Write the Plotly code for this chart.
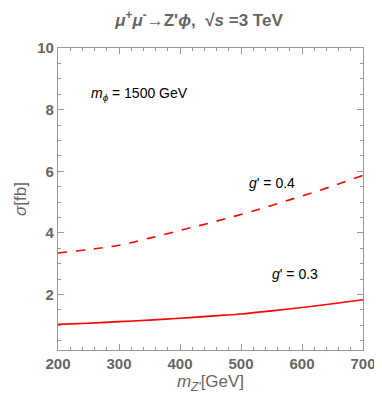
import plotly.graph_objects as go

# Z' mass [GeV] and cross sections [fb]
m_zp = [200, 250, 300, 350, 400, 450, 500, 550, 600, 650, 700]
sigma_g04 = [3.35, 3.46, 3.60, 3.83, 4.08, 4.33, 4.60, 4.89, 5.20, 5.52, 5.87]
sigma_g03 = [1.03, 1.07, 1.12, 1.17, 1.23, 1.30, 1.37, 1.47, 1.58, 1.70, 1.83]

grey = "#666666"
frame = "#999999"
fnt = "Arial"

fig = go.Figure()
fig.add_trace(go.Scatter(x=m_zp, y=sigma_g04, mode="lines", line_shape="spline",
                         line=dict(color="red", width=1.6, dash="dash")))
fig.add_trace(go.Scatter(x=m_zp, y=sigma_g03, mode="lines", line_shape="spline",
                         line=dict(color="red", width=1.6)))

axis = dict(showgrid=False, zeroline=False, showline=True, linecolor=frame, linewidth=1.2,
            mirror="allticks", ticks="inside", ticklen=6, tickwidth=1.2, tickcolor=frame,
            tickfont=dict(family=fnt, size=15, color=grey, weight="bold"))

fig.update_xaxes(range=[200, 700], tickmode="linear", tick0=200, dtick=100,
                 minor=dict(dtick=20, ticks="inside", ticklen=3, tickwidth=1, tickcolor=frame),
                 title=dict(text="<i>m</i><sub><i>Z'</i></sub>[GeV]", standoff=4,
                            font=dict(family=fnt, size=17, color=grey)),
                 **axis)
fig.update_yaxes(range=[0.2, 10], tickmode="linear", tick0=0, dtick=2,
                 minor=dict(dtick=0.5, ticks="inside", ticklen=3, tickwidth=1, tickcolor=frame),
                 title=dict(text="<i>σ</i>[fb]", standoff=6,
                            font=dict(family=fnt, size=17, color=grey)),
                 **axis)

fig.add_annotation(x=0.1, y=0.885, xref="paper", yref="paper", xanchor="left", showarrow=False,
                   text="<i>m</i><sub><i>ϕ</i></sub> = 1500 GeV",
                   font=dict(family=fnt, size=14, color="black"))
fig.add_annotation(x=0.62, y=0.552, xref="paper", yref="paper", xanchor="left", showarrow=False,
                   text="<i>g</i>' = 0.4", font=dict(family=fnt, size=14, color="black"))
fig.add_annotation(x=0.695, y=0.218, xref="paper", yref="paper", xanchor="left", showarrow=False,
                   text="<i>g</i>' = 0.3", font=dict(family=fnt, size=14, color="black"))

fig.update_layout(
    width=382, height=394,
    margin=dict(l=50, r=27, t=40, b=52),
    paper_bgcolor="white", plot_bgcolor="white",
    showlegend=False,
    title=dict(text="<i>μ</i><sup>+</sup><i>μ</i><sup>-</sup>→Z'<i>ϕ</i>,  √<i>s</i> =3 TeV",
               x=0.5, xanchor="center", y=0.985, yanchor="top",
               font=dict(family=fnt, size=17, color=grey, weight="bold")),
)

fig.write_html("out.html")
